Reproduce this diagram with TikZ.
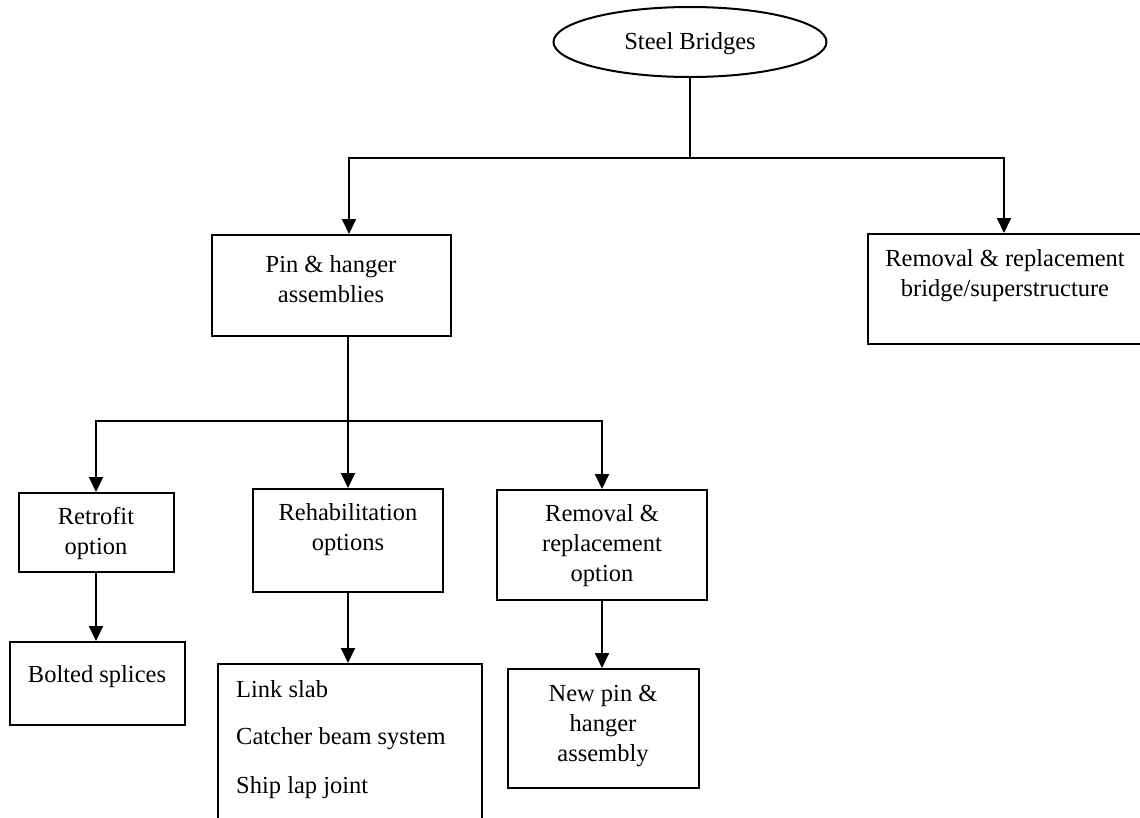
\documentclass[tikz,border=0pt]{standalone}
\usepackage{fontspec}
\setmainfont{Liberation Serif}
\usetikzlibrary{shapes.geometric,arrows.meta}
\begin{document}
\begin{tikzpicture}[x=1pt,y=-1pt,
  every node/.style={font=\fontsize{24.5}{30}\selectfont},
  box/.style={draw,line width=2pt,inner sep=0pt,rectangle},
  oval/.style={draw,line width=2pt,inner sep=0pt,ellipse},
  lbl/.style={align=center,inner sep=0pt},
  item/.style={anchor=base west,inner sep=0pt},
  link/.style={line width=2pt},
  arr/.style={link,-{Triangle[length=15pt,width=14pt]}}]
\useasboundingbox (0,0) rectangle (1140,817);
\clip (0,0) rectangle (1140,817);

% root
\node[oval,minimum width=273pt,minimum height=70pt] (root) at (690,42) {};
\node[lbl] (root-t) at (690,44) {Steel Bridges};

% level 1
\node[box,minimum width=239pt,minimum height=101pt] (pin) at (331,285.5) {};
\node[lbl] (pin-t) at (331,279) {Pin \& hanger\\assemblies};

\node[box,minimum width=293pt,minimum height=110pt] (rr) at (1014,289) {};
\node[lbl] (rr-t) at (1005,276) {Removal \& replacement\\bridge/superstructure};

% level 2
\node[box,minimum width=155pt,minimum height=79pt] (retro) at (96,532.5) {};
\node[lbl] (retro-t) at (96,533) {Retrofit\\option};

\node[box,minimum width=190pt,minimum height=103pt] (rehab) at (348,540.5) {};
\node[lbl] (rehab-t) at (348,530) {Rehabilitation\\options};

\node[box,minimum width=210pt,minimum height=110pt] (remopt) at (602,545) {};
\node[lbl] (remopt-t) at (602,546) {Removal \&\\replacement\\option};

% level 3
\node[box,minimum width=175pt,minimum height=83pt] (bolted) at (97,683.5) {};
\node[lbl] (bolted-t) at (97,677) {Bolted splices};

\node[box,minimum width=264pt,minimum height=176pt] (list) at (350,752) {};
\node[item] (list-a) at (236,697) {Link slab};
\node[item] (list-b) at (236,744) {Catcher beam system};
\node[item] (list-c) at (236,793) {Ship lap joint};

\node[box,minimum width=191pt,minimum height=119pt] (newpin) at (603,728.5) {};
\node[lbl] (newpin-t) at (603,726) {New pin \&\\hanger\\assembly};

% connectors from the root
\coordinate (j1) at (690,158);
\draw[link] (root.south) -- (j1);
\draw[arr] (j1) -| ([xshift=18pt]pin.north);
\draw[arr] (j1) -| ([xshift=-10pt]rr.north);

% connectors from the pin & hanger box
\coordinate (j2) at (348,421);
\draw[link] ([xshift=17pt]pin.south) -- (j2);
\draw[arr] (j2) -| (retro.north);
\draw[arr] (j2) -- (rehab.north);
\draw[arr] (j2) -| (remopt.north);

% leaf connectors
\draw[arr] (retro.south) -- (retro.south |- bolted.north);
\draw[arr] (rehab.south) -- (rehab.south |- list.north);
\draw[arr] (remopt.south) -- (remopt.south |- newpin.north);
\end{tikzpicture}
\end{document}
